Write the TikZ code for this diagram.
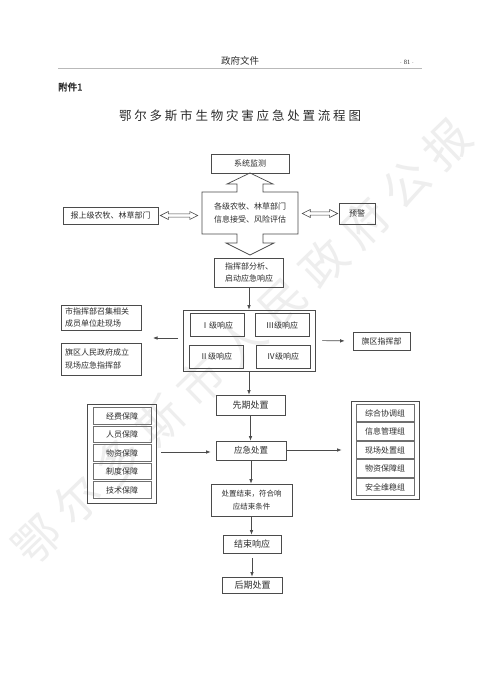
\documentclass[tikz,border=0pt]{standalone}
\usepackage{fontspec}
\setmainfont{Liberation Serif}
\newfontfamily\cjk{Noto Sans CJK SC}
\newfontfamily\cjkbold[FakeBold=2]{Noto Sans CJK SC}
\usetikzlibrary{arrows.meta,calc}
\definecolor{linec}{RGB}{75,75,75}
\definecolor{txt}{RGB}{45,45,45}
\definecolor{wm}{RGB}{238,238,238}
\newcommand\ts{\hspace{2.8pt}}
\newcommand\ws{\hspace{11pt}}
\newcommand\hdar[2]{%
  \draw[linec, line width=0.6pt] let \p1=#1, \p2=#2 in
   (\x1,\y1) -- (\x1+8pt,\y1+4pt) -- (\x1+8pt,\y1+1.6pt) -- (\x2-8pt,\y1+1.6pt)
   -- (\x2-8pt,\y1+4pt) -- (\x2,\y1) -- (\x2-8pt,\y1-4pt) -- (\x2-8pt,\y1-1.6pt)
   -- (\x1+8pt,\y1-1.6pt) -- (\x1+8pt,\y1-4pt) -- cycle;}
\tikzset{
  box/.style={draw=linec, line width=0.7pt, inner sep=0pt, text=txt, align=center,
    font=\cjk\fontsize{8}{12.5}\selectfont},
  ibox/.style={box, draw=linec!80, line width=1pt},
  arr/.style={draw=linec, line width=0.7pt, -{Latex[length=4.5pt,width=3.6pt]}},
}
\begin{document}
\begin{tikzpicture}[x=1pt,y=-1pt]
\useasboundingbox (0,0) rectangle (480,679);
\fill[white] (0,0) rectangle (480,679);
% watermark
\node[text=wm, rotate=44, inner sep=0pt, font=\cjk\fontsize{46}{46}\selectfont] (wmk) at (242,342)
  {鄂\ws 尔\ws 多\ws 斯\ws 市\ws 人\ws 民\ws 政\ws 府\ws 公\ws 报};
% header
\node[text=txt, font=\cjk\fontsize{9.5}{10}\selectfont] (hd) at (240,61) {政府文件};
\node[text=txt, font=\fontsize{6.5}{7}\selectfont] (pg) at (407,62) {$\cdot$ 81 $\cdot$};
\draw[gray!55, line width=0.8pt] (58,68) -- (422,68);
\node[anchor=west, inner sep=0pt, text=black!85, font=\cjkbold\fontsize{9.5}{10}\selectfont] (fj) at (58,87) {附件1};
\node[text=txt, font=\cjk\fontsize{12.5}{13}\selectfont] (title) at (240,116)
  {鄂\ts 尔\ts 多\ts 斯\ts 市\ts 生\ts 物\ts 灾\ts 害\ts 应\ts 急\ts 处\ts 置\ts 流\ts 程\ts 图};
% top part
\node[box, minimum width=78, minimum height=19] (mon) at (250,163.5) {系统监测};
\node[inner sep=0pt, minimum width=96, minimum height=42, align=center, text=txt,
  font=\cjk\fontsize{8}{13}\selectfont] (info) at (250,213) {各级农牧、林草部门\\信息接受、风险评估};
\draw[linec, line width=0.7pt]
  (202,192) -- (237,192) -- (237,184) -- (227,184) -- (250,173) -- (273,184) -- (263,184) -- (263,192)
  -- (298,192) -- (298,234) -- (263,234) -- (263,243) -- (274,243) -- (250,255) -- (226,243)
  -- (237,243) -- (237,234) -- (202,234) -- cycle;
\node[box, minimum width=95, minimum height=17] (rep) at (110.5,215.5) {报上级农牧、林草部门};
\node[box, minimum width=36, minimum height=21] (warn) at (357,213.5) {预警};
\hdar{([xshift=2pt]rep.east)}{([xshift=-4pt]rep.east -| info.west)}
\hdar{([xshift=4pt]info.east |- warn.west)}{([xshift=-1pt]warn.west)}
\node[box, minimum width=69, minimum height=29] (cmd) at (249,272.5) {指挥部分析、\\启动应急响应};
% response group
\node[box, minimum width=132, minimum height=61] (grp) at (249,340.5) {};
\node[box, minimum width=54, minimum height=23] (r1) at (217,325) {Ⅰ级响应};
\node[box, minimum width=54, minimum height=23] (r3) at (282,325) {Ⅲ级响应};
\node[box, minimum width=54, minimum height=23] (r2) at (216,356.5) {Ⅱ级响应};
\node[box, minimum width=54, minimum height=23] (r4) at (283,356.5) {Ⅳ级响应};
\draw[arr] (cmd.south) -- (cmd.south |- grp.north);
\node[box, minimum width=57, minimum height=18] (qq) at (381.5,341) {旗区指挥部};
\node[box, text width=72, inner xsep=4pt, minimum height=25, align=left] (lb1) at (101,317.5) {市指挥部召集相关\\成员单位赴现场};
\node[box, text width=72, inner xsep=4pt, minimum height=32, align=left] (lb2) at (101,359) {旗区人民政府成立\\现场应急指挥部};
\coordinate (la) at (178,338);
\coordinate (lt) at (153,338);
\draw[arr] (la) -- (lt);
\draw[arr, shorten <=7pt, shorten >=8pt] (grp.east) -- (qq.west);
% main chain
\node[box, minimum width=69, minimum height=20, font=\cjk\fontsize{9}{12}\selectfont] (xq) at (250.5,405) {先期处置};
\node[box, minimum width=70, minimum height=19, font=\cjk\fontsize{8.5}{12}\selectfont] (yj) at (251,450.5) {应急处置};
\node[box, minimum width=81, minimum height=32, font=\cjk\fontsize{7.5}{13}\selectfont] (endc) at (251.5,500) {处置结束，符合响\\应结束条件};
\node[box, minimum width=58, minimum height=18, font=\cjk\fontsize{9}{12}\selectfont] (js) at (252,544) {结束响应};
\node[box, minimum width=60, minimum height=16, font=\cjk\fontsize{9}{12}\selectfont] (hq) at (252.5,585) {后期处置};
\draw[arr] (grp.south) -- (grp.south |- xq.north);
\draw[arr] (xq.south) -- (xq.south |- yj.north);
\draw[arr] (yj.south) -- (yj.south |- endc.north);
\draw[arr] (endc.south) -- (endc.south |- js.north);
\draw[arr, shorten <=5pt] (js.south) -- (js.south |- hq.north);
% left guarantee group
\node[box, minimum width=69, minimum height=99] (lg) at (121.5,453.5) {};
\node[ibox, minimum width=58, minimum height=16.5] (g1) at (122,416) {经费保障};
\node[ibox, minimum width=58, minimum height=16.5] (g2) at (122,434.5) {人员保障};
\node[ibox, minimum width=58, minimum height=16.5] (g3) at (122,453) {物资保障};
\node[ibox, minimum width=58, minimum height=16.5] (g4) at (122,471.5) {制度保障};
\node[ibox, minimum width=58, minimum height=16.5] (g5) at (122,490) {技术保障};
\draw[arr, shorten <=5pt, shorten >=5pt] (lg.east |- 0,452) -- (yj.west |- 0,452);
% right team group
\node[box, minimum width=68, minimum height=98] (rg) at (385,450) {};
\node[ibox, minimum width=58, minimum height=17.5] (t1) at (385,413) {综合协调组};
\node[ibox, minimum width=58, minimum height=17.5] (t2) at (385,431.5) {信息管理组};
\node[ibox, minimum width=58, minimum height=17.5] (t3) at (385,450) {现场处置组};
\node[ibox, minimum width=58, minimum height=17.5] (t4) at (385,468.5) {物资保障组};
\node[ibox, minimum width=58, minimum height=17.5] (t5) at (385,487) {安全维稳组};
\draw[arr, shorten >=9pt] (yj.east |- 0,450) -- (rg.west |- 0,450);
\end{tikzpicture}
\end{document}
